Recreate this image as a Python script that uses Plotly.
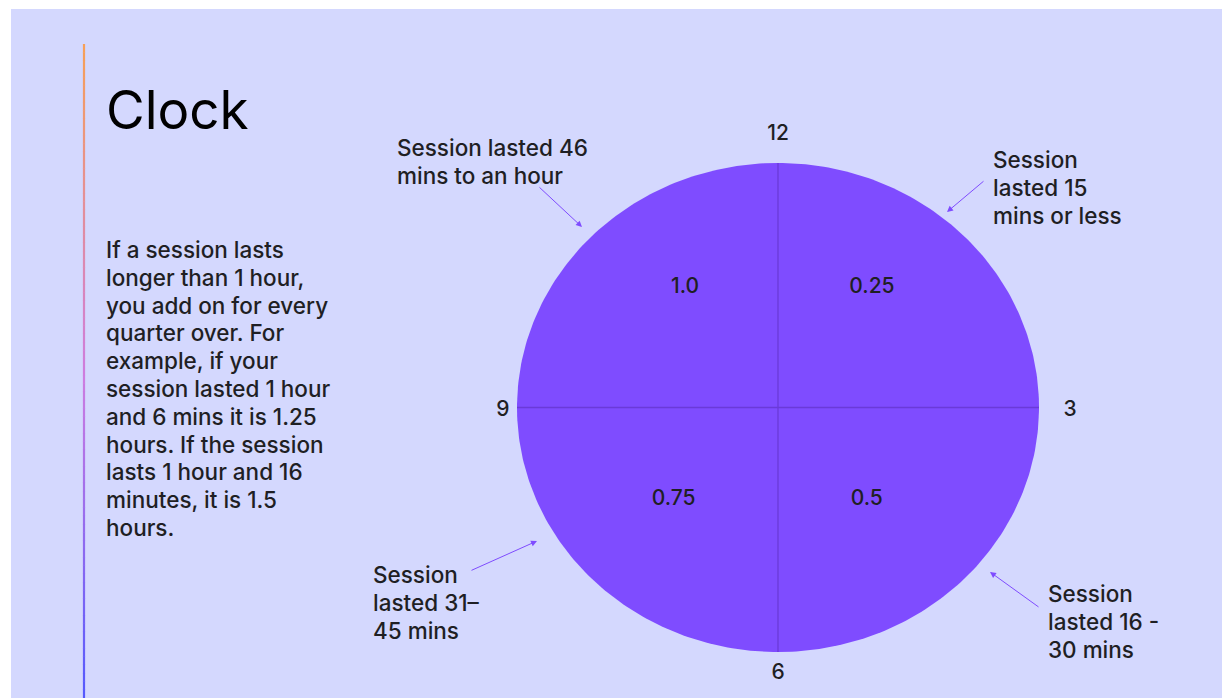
import numpy as np
import plotly.graph_objects as go

# ---- data ----
quarter_values = [0.25, 0.5, 0.75, 1.0]          # clockwise from 12
quarter_labels = ["0.25", "0.5", "0.75", "1.0"]
hour_labels = ["12", "3", "6", "9"]
callout_lines = [
    ["Session", "lasted 15", "mins or less"],
    ["Session", "lasted 16 -", "30 mins"],
    ["Session", "lasted 31–", "45 mins"],
    ["Session lasted 46", "mins to an hour"],
]
title_text = "Clock"
body_lines = ["If a session lasts", "longer than 1 hour,", "you add on for every",
              "quarter over. For", "example, if your", "session lasted 1 hour",
              "and 6 mins it is 1.25", "hours. If the session", "lasts 1 hour and 16",
              "minutes, it is 1.5", "hours."]

# ---- style / layout constants ----
W, H = 1230, 698
OFF = 8  # page offset of the figure in the browser window
BG = "#d4d8fe"
PURPLE = "#7f4cff"
DIVIDER = "#6a3ad8"
TXT = "#1f1f24"
FONT = "Inter"
LINE = 27.8
TEXT_DY = 2.8  # scatter-text baseline correction (px)
cx, cy, rx, ry = 778, 407.5, 261, 244.5

label_off = [(0.36, 0.50), (0.34, -0.366), (-0.40, -0.366), (-0.356, 0.50)]
hour_off = [(0, 1.127), (1.119, 0), (0, -1.078), (-1.054, 0)]
callout_first = [(993, 159), (1048, 593), (373, 574), (397, 147)]
arrow_tail = [(985, 180), (1040, 608), (470, 571), (538, 186)]
arrow_head = [(947, 212), (990, 572), (537, 541), (582, 227)]


def px(ux, uy):
    return cx + rx * ux, cy - ry * uy + TEXT_DY


fig = go.Figure()

prev = 0.0
for v in quarter_values:
    a = np.linspace(prev * 2 * np.pi, v * 2 * np.pi, 90)
    xs = np.concatenate([[cx], cx + rx * np.sin(a), [cx]])
    ys = np.concatenate([[cy], cy - ry * np.cos(a), [cy]])
    fig.add_trace(go.Scatter(x=xs, y=ys, mode="lines", fill="toself",
                             fillcolor=PURPLE, line=dict(width=0, color=PURPLE),
                             hoverinfo="skip", showlegend=False))
    prev = v

for v in quarter_values:
    a = v * 2 * np.pi
    fig.add_trace(go.Scatter(x=[cx, cx + rx * np.sin(a)], y=[cy, cy - ry * np.cos(a)],
                             mode="lines", line=dict(width=1.3, color=DIVIDER),
                             hoverinfo="skip", showlegend=False))

lx, ly = zip(*[px(*o) for o in label_off])
fig.add_trace(go.Scatter(x=lx, y=ly, mode="text", text=quarter_labels,
                         textfont=dict(family=FONT, size=21, color=TXT, weight=500),
                         hoverinfo="skip", showlegend=False))
hx, hy = zip(*[px(*o) for o in hour_off])
fig.add_trace(go.Scatter(x=hx, y=hy, mode="text", text=hour_labels,
                         textfont=dict(family=FONT, size=21, color=TXT, weight=500),
                         hoverinfo="skip", showlegend=False))

annotations = []


def add_lines(lines, x, y0, size=22.5):
    for i, t in enumerate(lines):
        annotations.append(dict(x=x, y=y0 + i * LINE, xref="x", yref="y", text=t,
                                showarrow=False, xanchor="left", yanchor="middle",
                                font=dict(family=FONT, size=size, color=TXT, weight=500)))


for lines, (tx, ty), (ax_, ay_), (hx_, hy_) in zip(callout_lines, callout_first, arrow_tail, arrow_head):
    add_lines(lines, tx - 2, ty + 0.5)
    annotations.append(dict(x=hx_, y=hy_, ax=ax_, ay=ay_, xref="x", yref="y",
                            axref="x", ayref="y", text="", showarrow=True,
                            arrowhead=2, arrowsize=1.2, arrowwidth=1, arrowcolor=PURPLE))

annotations.append(dict(x=104, y=110, xref="x", yref="y", text=title_text, showarrow=False,
                        xanchor="left", yanchor="middle",
                        font=dict(family=FONT, size=53, color="#000000")))
add_lines(body_lines, 104, 249.5)

shapes = [dict(type="rect", xref="x", yref="y", x0=11, x1=W + 50, y0=9, y1=H + 50,
               fillcolor=BG, line=dict(width=0), layer="below")]

stops = [(0.0, (247, 160, 88)), (0.5, (205, 125, 225)), (1.0, (80, 88, 255))]


def grad(t):
    for (t0, c0), (t1, c1) in zip(stops[:-1], stops[1:]):
        if t <= t1:
            f = (t - t0) / (t1 - t0)
            return "rgb(%d,%d,%d)" % tuple(int(c0[i] + (c1[i] - c0[i]) * f) for i in range(3))
    return "rgb(%d,%d,%d)" % stops[-1][1]


y_top, y_bot, n = 44, H + OFF, 80
for i in range(n):
    y0 = y_top + (y_bot - y_top) * i / n
    y1 = y_top + (y_bot - y_top) * (i + 1) / n + 0.5
    shapes.append(dict(type="line", xref="x", yref="y", x0=84, x1=84, y0=y0, y1=y1,
                       line=dict(color=grad(i / n), width=2.2), layer="below"))

fig.update_layout(
    width=W, height=H,
    margin=dict(l=0, r=0, t=0, b=0),
    paper_bgcolor="white", plot_bgcolor="rgba(0,0,0,0)",
    xaxis=dict(range=[OFF, W + OFF], visible=False, fixedrange=True),
    yaxis=dict(range=[H + OFF, OFF], visible=False, fixedrange=True),
    shapes=shapes, annotations=annotations,
    showlegend=False,
)

fig.write_html("out.html", config={"displayModeBar": False})
